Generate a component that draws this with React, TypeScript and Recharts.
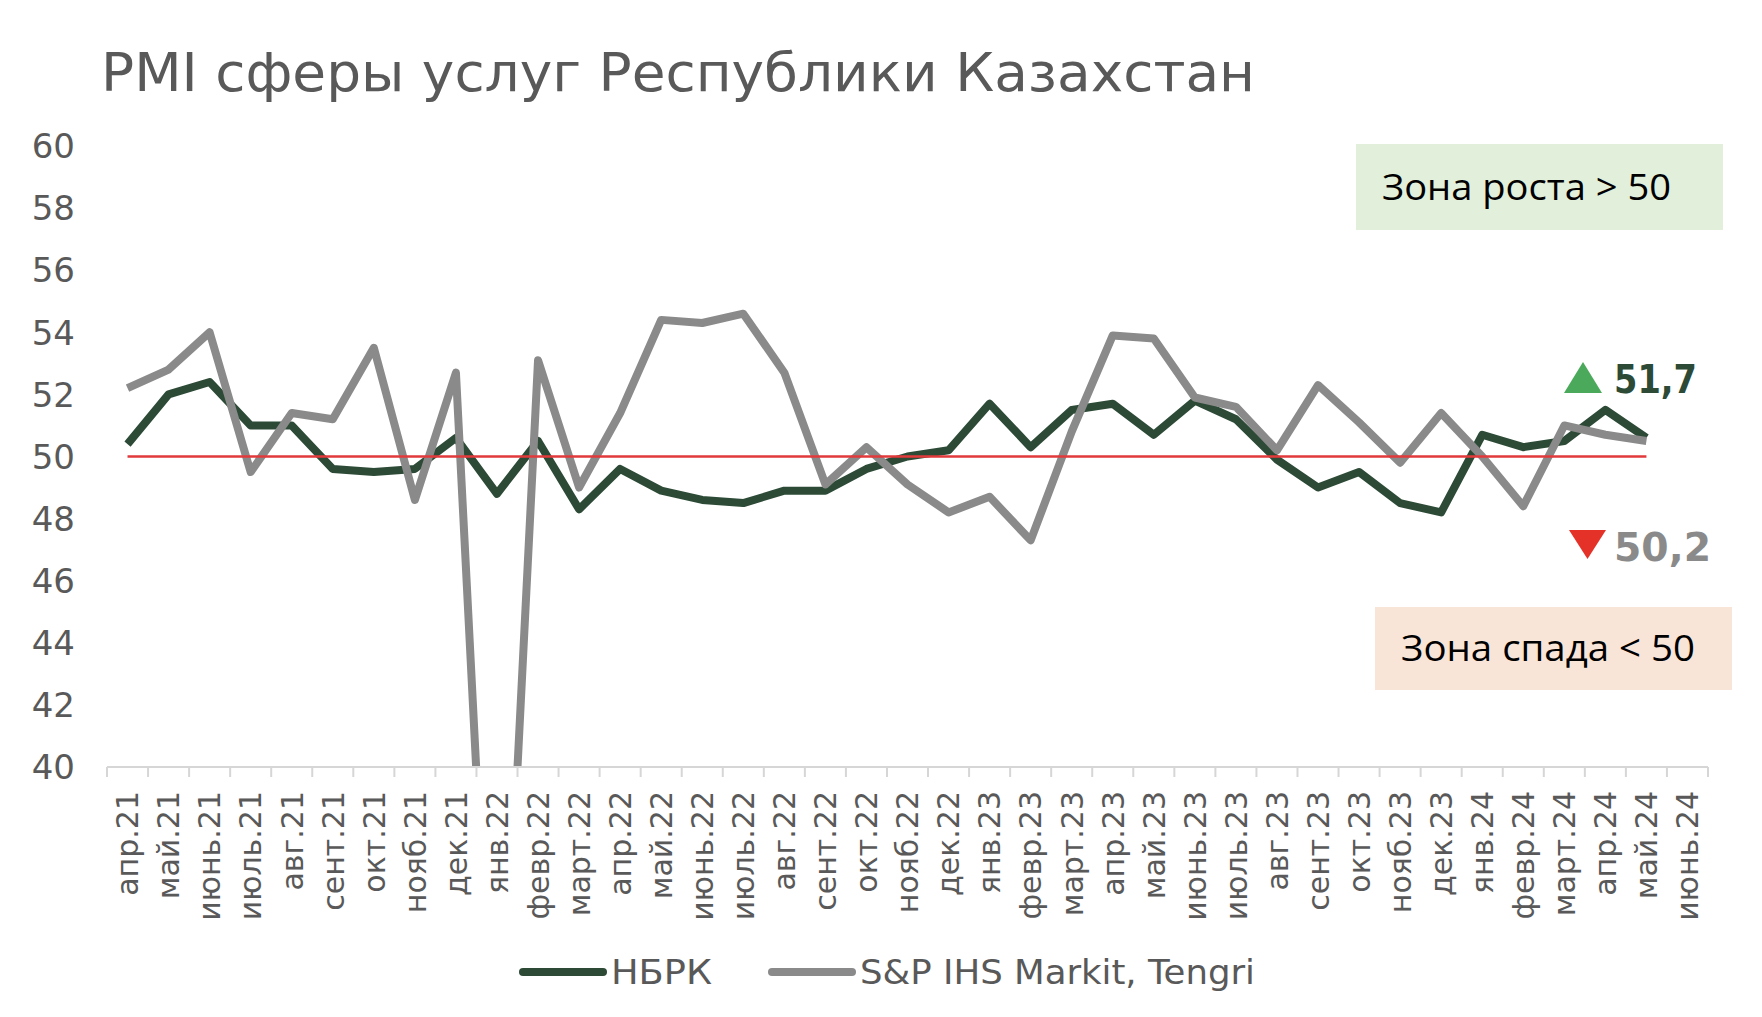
import { LineChart, Line, XAxis, YAxis, ReferenceLine, Legend } from "recharts"

const months = [
  "апр.21", "май.21", "июнь.21", "июль.21", "авг.21", "сент.21", "окт.21", "нояб.21", "дек.21",
  "янв.22", "февр.22", "март.22", "апр.22", "май.22", "июнь.22", "июль.22", "авг.22", "сент.22",
  "окт.22", "нояб.22", "дек.22", "янв.23", "февр.23", "март.23", "апр.23", "май.23", "июнь.23",
  "июль.23", "авг.23", "сент.23", "окт.23", "нояб.23", "дек.23", "янв.24", "февр.24", "март.24",
  "апр.24", "май.24", "июнь.24"
]

// НБРК
const nbrkValues = [
  50.4, 52.0, 52.4, 51.0, 51.0, 49.6, 49.5, 49.6, 50.6, 48.8, 50.5, 48.3, 49.6, 48.9, 48.6, 48.5,
  48.9, 48.9, 49.6, 50.0, 50.2, 51.7, 50.3, 51.5, 51.7, 50.7, 51.8, 51.2, 49.9, 49.0, 49.5, 48.5,
  48.2, 50.7, 50.3, 50.5, 51.5, 50.6
]

// S&P IHS Markit, Tengri (jan.22 falls far below the axis)
const spValues = [
  52.2, 52.8, 54.0, 49.5, 51.4, 51.2, 53.5, 48.6, 52.7, 26.9, 53.1, 49.0, 51.4, 54.4, 54.3, 54.6,
  52.7, 49.1, 50.3, 49.1, 48.2, 48.7, 47.3, 50.8, 53.9, 53.8, 51.9, 51.6, 50.2, 52.3, 51.1, 49.8,
  51.4, 50.0, 48.4, 51.0, 50.7, 50.5
]

const yTicks = [40, 42, 44, 46, 48, 50, 52, 54, 56, 58, 60]
const threshold = 50
const seriesNames = { nbrk: "НБРК", sp: "S&P IHS Markit, Tengri" }
const legendOrder = [seriesNames.nbrk, seriesNames.sp]
const title = "PMI сферы услуг Республики Казахстан"
const growthLabel = "Зона роста > 50"
const declineLabel = "Зона спада < 50"
const nbrkLatest = "51,7"
const spLatest = "50,2"

const W = 1762
const H = 1017
const PLOT = { left: 107, right: 1708, top: 146, bottom: 767 }
const FONT = "'DejaVu Sans', sans-serif"
const BOX_FONT = "'Open Sans', sans-serif"
const TEXT_GRAY = "#595959"
const GREEN = "#2c4a36"
const GRAY = "#8a8a8a"
const AXIS_GRAY = "#d6d6d6"
// rendered width of each legend label, to match the original's wider face
const LEGEND_TEXT_W: Record<string, number> = { "НБРК": 101, "S&P IHS Markit, Tengri": 395 }

const data = months.map((m, i) => ({
  month: m,
  nbrk: nbrkValues[i] ?? null,
  sp: spValues[i] ?? null
}))

const XTick = ({ x, index, payload }: any) => {
  const bw = (PLOT.right - PLOT.left) / months.length
  const left = x - bw / 2
  return (
    <g>
      <line x1={left} x2={left} y1={PLOT.bottom} y2={PLOT.bottom + 10} stroke={AXIS_GRAY} strokeWidth={2} />
      {index === months.length - 1 && (
        <line x1={x + bw / 2} x2={x + bw / 2} y1={PLOT.bottom} y2={PLOT.bottom + 10} stroke={AXIS_GRAY} strokeWidth={2} />
      )}
      <text
        transform={`translate(${x},${PLOT.bottom + 24}) rotate(-90)`}
        textAnchor="end"
        dy="0.36em"
        fontSize={30}
        fontFamily={FONT}
        fill={TEXT_GRAY}
      >
        {payload.value}
      </text>
    </g>
  )
}

const YTick = ({ y, payload }: any) => (
  <text x={PLOT.left - 32} y={y} dy="0.36em" textAnchor="end" fontSize={34} fontFamily={FONT} fill={TEXT_GRAY}>
    {payload.value}
  </text>
)

const renderLegend = ({ payload }: any) => {
  const items = [...(payload || [])].sort(
    (a: any, b: any) => legendOrder.indexOf(a.value) - legendOrder.indexOf(b.value)
  )
  return (
    <div style={{ display: "flex", alignItems: "center", paddingLeft: 518, height: 48 }}>
      {items.map((p: any, i: number) => {
        const tw = LEGEND_TEXT_W[p.value] ?? 200
        return (
          <div key={i} style={{ display: "flex", alignItems: "center", marginRight: 51 }}>
            <svg width={90} height={12}>
              <line x1={5} x2={85} y1={6} y2={6} stroke={p.color} strokeWidth={8} strokeLinecap="round" />
            </svg>
            <svg width={tw + 4} height={48} style={{ marginLeft: 3 }}>
              <text
                x={0}
                y={36}
                fontSize={34}
                fontFamily={FONT}
                fill={TEXT_GRAY}
                textLength={tw}
                lengthAdjust="spacingAndGlyphs"
              >
                {p.value}
              </text>
            </svg>
          </div>
        )
      })}
    </div>
  )
}

export default function App() {
  const yAxisWidth = 100
  const xAxisHeight = 150
  return (
    <div style={{ position: "absolute", left: 0, top: 0, width: W, height: H, background: "#fff" }}>
      <LineChart
        width={W}
        height={H}
        data={data}
        margin={{
          top: PLOT.top,
          right: W - PLOT.right,
          bottom: H - PLOT.bottom - xAxisHeight,
          left: PLOT.left - yAxisWidth
        }}
      >
        <XAxis
          dataKey="month"
          scale="band"
          interval={0}
          height={xAxisHeight}
          tickLine={false}
          axisLine={{ stroke: AXIS_GRAY, strokeWidth: 2 }}
          tick={<XTick />}
        />
        <YAxis
          width={yAxisWidth}
          domain={[40, 60]}
          ticks={yTicks}
          allowDataOverflow
          axisLine={false}
          tickLine={false}
          tick={<YTick />}
        />
        <Legend
          verticalAlign="middle"
          layout="horizontal"
          wrapperStyle={{ left: 0, top: 948, width: W, height: 48 }}
          content={renderLegend}
        />
        <Line
          type="linear"
          dataKey="nbrk"
          name={seriesNames.nbrk}
          stroke={GREEN}
          strokeWidth={8}
          strokeLinejoin="round"
          dot={false}
          activeDot={false}
          isAnimationActive={false}
        />
        <Line
          type="linear"
          dataKey="sp"
          name={seriesNames.sp}
          stroke={GRAY}
          strokeWidth={8}
          strokeLinejoin="round"
          dot={false}
          activeDot={false}
          isAnimationActive={false}
        />
        <ReferenceLine
          segment={[
            { x: months[0], y: threshold },
            { x: months[nbrkValues.length - 1], y: threshold }
          ]}
          stroke="#e2393b"
          strokeWidth={2.5}
          ifOverflow="visible"
        />
      </LineChart>

      <svg width={W} height={H} style={{ position: "absolute", left: 0, top: 0, pointerEvents: "none" }}>
        <text x={101} y={91} fontSize={54} fontFamily={FONT} fill={TEXT_GRAY} textLength={1154} lengthAdjust="spacingAndGlyphs">
          {title}
        </text>

        <rect x={1356} y={144} width={367} height={86} fill="#e2efda" />
        <text x={1382} y={200} fontSize={37} fontFamily={BOX_FONT} fill="#000" textLength={289} lengthAdjust="spacingAndGlyphs">
          {growthLabel}
        </text>

        <rect x={1375} y={607} width={357} height={83} fill="#f9e5d8" />
        <text x={1401} y={661} fontSize={37} fontFamily={BOX_FONT} fill="#000" textLength={294} lengthAdjust="spacingAndGlyphs">
          {declineLabel}
        </text>

        <polygon points="1564,393 1602,393 1583,362" fill="#4aa95a" />
        <text x={1614} y={393} fontSize={39} fontWeight="bold" fontFamily={FONT} fill={GREEN} textLength={83} lengthAdjust="spacingAndGlyphs">
          {nbrkLatest}
        </text>

        <polygon points="1569,530 1606,530 1587.5,559" fill="#e53228" />
        <text x={1614} y={561} fontSize={39} fontWeight="bold" fontFamily={FONT} fill={GRAY} textLength={97} lengthAdjust="spacingAndGlyphs">
          {spLatest}
        </text>
      </svg>
    </div>
  )
}
